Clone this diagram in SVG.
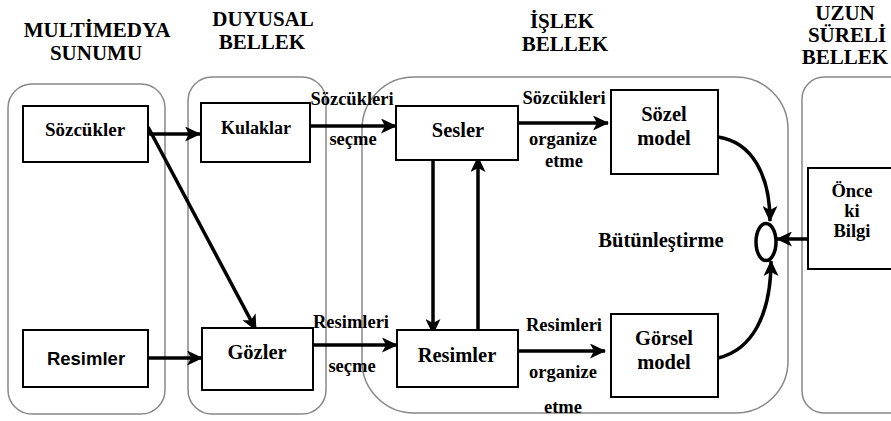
<svg xmlns="http://www.w3.org/2000/svg" width="891" height="421" viewBox="0 0 891 421">
<style>
.t{font-family:"Liberation Serif","Times New Roman",serif;font-weight:bold;fill:#000;text-anchor:middle}
.title{font-size:21px}
.lbl{font-size:18.5px}
.node{font-size:20.5px}
.cont{fill:none;stroke:#888;stroke-width:1.5}
.box{fill:#fff;stroke:#000;stroke-width:2}
.e{fill:none;stroke:#000;stroke-width:3.5}
</style>
<defs>
<marker id="ah" markerUnits="userSpaceOnUse" markerWidth="17" markerHeight="15" refX="15" refY="7.5" orient="auto">
<path d="M0,0 L16,7.5 L0,15 L4,7.5 z" fill="#000"/>
</marker>
</defs>
<rect width="891" height="421" fill="#fff"/>
<g id="titles">
<text class="t title" x="97" y="37">MULTİMEDYA</text>
<text class="t title" x="96" y="60">SUNUMU</text>
<text class="t title" x="263" y="26">DUYUSAL</text>
<text class="t title" x="262" y="49">BELLEK</text>
<text class="t title" x="562" y="28">İŞLEK</text>
<text class="t title" x="565" y="51">BELLEK</text>
<text class="t title" x="845" y="20">UZUN</text>
<text class="t title" x="847" y="42">SÜRELİ</text>
<text class="t title" x="845" y="64">BELLEK</text>
</g>
<g id="containers">
<rect id="multimedya" class="cont" x="8" y="84" width="157" height="330" rx="24"/>
<rect id="duyusal" class="cont" x="188" y="77" width="138" height="337" rx="24"/>
<rect id="islek" class="cont" x="362" y="77" width="426" height="336" rx="52"/>
<rect id="uzun" class="cont" x="802" y="77" width="120" height="336" rx="22"/>
</g>
<g id="connectors">
<line class="e" x1="148" y1="134" x2="200" y2="134" marker-end="url(#ah)"/>
<line class="e" x1="148" y1="127" x2="256" y2="330" marker-end="url(#ah)"/>
<line class="e" x1="148" y1="358" x2="202" y2="358" marker-end="url(#ah)"/>
<line class="e" x1="308" y1="126" x2="396" y2="126" marker-end="url(#ah)"/>
<line class="e" x1="313" y1="345" x2="397" y2="345" marker-end="url(#ah)"/>
<line class="e" x1="433" y1="160" x2="433" y2="334" marker-end="url(#ah)"/>
<line class="e" x1="478" y1="330" x2="478" y2="157" marker-end="url(#ah)"/>
<line class="e" x1="514" y1="123" x2="608" y2="123" marker-end="url(#ah)"/>
<line class="e" x1="512" y1="351" x2="605" y2="351" marker-end="url(#ah)"/>
<path class="e" d="M718,137 C752,142 770,175 770,221" marker-end="url(#ah)"/>
<path class="e" d="M718,358 C752,350 771,315 771,261" marker-end="url(#ah)"/>
<line class="e" x1="808" y1="239" x2="777" y2="239" marker-end="url(#ah)"/>
</g>
<g id="labels">
<text class="t lbl" x="352" y="105">Sözcükleri</text>
<text class="t lbl" x="353" y="145">seçme</text>
<text class="t lbl" x="351" y="328">Resimleri</text>
<text class="t lbl" x="352" y="372">seçme</text>
<text class="t lbl" x="564" y="104">Sözcükleri</text>
<text class="t lbl" x="563" y="145">organize</text>
<text class="t lbl" x="564" y="167">etme</text>
<text class="t lbl" x="564" y="331">Resimleri</text>
<text class="t lbl" x="563" y="378">organize</text>
<text class="t lbl" x="563" y="413">etme</text>
</g>
<g id="n-sozcukler"><rect class="box" x="23" y="106" width="125" height="56"/><text class="t" style="font-size:19px" x="85" y="136">Sözcükler</text></g>
<g id="n-resimler1"><rect class="box" x="23" y="330" width="125" height="57"/><text x="86" y="365" style="font-family:'Liberation Sans',Arial,sans-serif;font-weight:bold;font-size:18.5px;text-anchor:middle">Resimler</text></g>
<g id="n-kulaklar"><rect class="box" x="201" y="103" width="109" height="59"/><text class="t" style="font-size:18px" x="256" y="134">Kulaklar</text></g>
<g id="n-gozler"><rect class="box" x="202" y="328" width="111" height="62"/><text class="t node" x="257" y="359">Gözler</text></g>
<g id="n-sesler"><rect class="box" x="396" y="106" width="122" height="54"/><text class="t node" x="458" y="137">Sesler</text></g>
<g id="n-resimler2"><rect class="box" x="397" y="330" width="121" height="57"/><text class="t node" x="457" y="362">Resimler</text></g>
<g id="n-sozel"><rect class="box" x="611" y="90" width="107" height="84"/><text class="t node" x="664" y="121">Sözel</text><text class="t node" x="664" y="145">model</text></g>
<g id="n-gorsel"><rect class="box" x="611" y="314" width="107" height="83"/><text class="t node" x="664" y="345">Görsel</text><text class="t node" x="664" y="369">model</text></g>
<g id="n-bilgi"><rect class="box" x="808" y="168" width="90" height="101"/><text class="t" style="font-size:18.5px" x="852" y="197">Önce</text><text class="t" style="font-size:18.5px" x="852" y="217">ki</text><text class="t" style="font-size:18.5px" x="852" y="237">Bilgi</text></g>
<g id="n-butun"><ellipse cx="766" cy="242" rx="10" ry="18.5" fill="#fff" stroke="#000" stroke-width="3.5"/><text class="t node" x="661" y="247">Bütünleştirme</text></g>
</svg>
